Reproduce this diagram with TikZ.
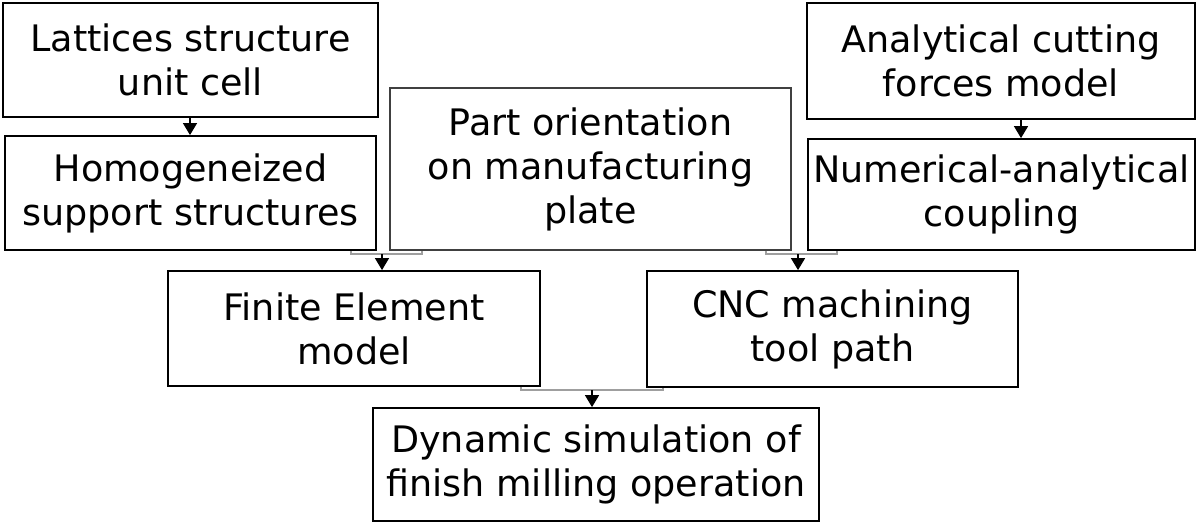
\documentclass[tikz,border=0pt]{standalone}
\usepackage{fontspec}
\setmainfont{DejaVu Sans}
\usetikzlibrary{arrows.meta}
\tikzset{
  box/.style={draw=black, line width=1.8pt, align=center, inner sep=0pt,
    font=\fontsize{36.5}{44}\selectfont},
  link/.style={draw=gray!75, line width=1.6pt},
  arr/.style={draw=black, line width=1.4pt, -{Triangle[width=14pt,length=12pt]}}
}
\begin{document}
\begin{tikzpicture}[x=1pt,y=-1pt]
\useasboundingbox (0,0) rectangle (1200,523);
% boxes: corners in pixel coordinates
\node[box, minimum width=375pt, minimum height=114pt] (A) at (190.5,60) {Lattices structure\\unit cell};
\node[box, minimum width=371pt, minimum height=114pt] (B) at (190.5,193) {Homogeneized\\support structures};
\node[box, draw=black!75, line width=1.4pt, minimum width=401pt, minimum height=162pt] (C) at (590.5,169) {Part orientation\\on manufacturing\\plate};
\node[box, minimum width=388pt, minimum height=116pt] (D) at (1001,61) {Analytical cutting\\forces model};
\node[box, minimum width=387pt, minimum height=111pt] (E) at (1001.5,194.5) {Numerical-analytical\\coupling};
\node[box, minimum width=372pt, minimum height=115pt] (F) at (354,328.5) {Finite Element\\model};
\node[box, minimum width=371pt, minimum height=116pt] (G) at (832.5,329) {CNC machining\\tool path};
\node[box, minimum width=446pt, minimum height=113pt] (H) at (596,464.5) {Dynamic simulation of\\finish milling operation};
% simple arrows
\draw[arr] (A.south -| 190,0) -- (B.north -| 190,0);
\draw[arr] (D.south -| 1021,0) -- (E.north -| 1021,0);
% bracket B,C -> F
\coordinate (b1) at (351,254);
\coordinate (b2) at (422,254);
\coordinate (bm) at (382,254);
\draw[link] (B.south -| b1) -- (b1) -- (b2) -- (C.south -| b2);
\draw[arr] (bm) -- (F.north -| bm);
% bracket C,E -> G
\coordinate (c1) at (766,254);
\coordinate (c2) at (837,254);
\coordinate (cm) at (798,254);
\draw[link] (C.south -| c1) -- (c1) -- (c2) -- (E.south -| c2);
\draw[arr] (cm) -- (G.north -| cm);
% bracket F,G -> H
\coordinate (d1) at (521,390);
\coordinate (d2) at (663,390);
\coordinate (dm) at (592,390);
\draw[link] (F.south -| d1) -- (d1) -- (d2) -- (G.south -| d2);
\draw[arr] (dm) -- (H.north -| dm);
\end{tikzpicture}
\end{document}
